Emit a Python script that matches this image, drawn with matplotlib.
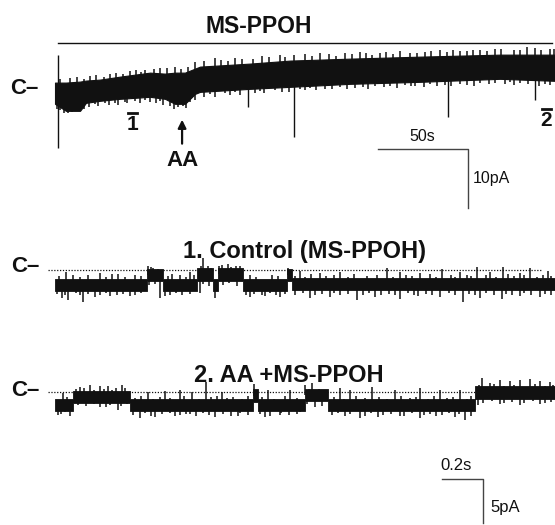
import numpy as np
import matplotlib
matplotlib.use("Agg")
import matplotlib.pyplot as plt

plt.rcParams["font.family"] = ["Liberation Sans", "DejaVu Sans"]
INK = "#111111"

# ---- top trace: long recording (s, pA), closed level = 0 pA ----
top_t = [0, 6.1, 13.9, 17.2, 25, 36.1, 52.8, 61.1, 66.7, 72.2, 77.8, 80.6,
         108.3, 130.6, 163.9, 202.8, 247.2, 277.8]
top_hi = [1.02, 1.02, 1.19, 1.36, 1.53, 2.03, 2.71, 2.54, 2.71, 2.71, 3.39,
          3.73, 4.24, 4.75, 5.08, 5.42, 5.76, 5.76]
top_lo = [-2.88, -4.07, -4.07, -2.71, -2.37, -2.03, -1.69, -2.03, -2.88,
          -2.88, -1.19, -0.85, -0.34, 0.0, 0.51, 0.85, 1.36, 1.02]
top_dn_t = [2.8, 5.0, 7.2, 9.4, 11.7, 13.9, 22.2, 27.8, 33.3, 38.9, 44.4, 50.0,
            58.3, 63.9, 68.3, 71.1, 75.0, 86.1, 94.4, 100.0, 113.9, 122.2,
            136.1, 141.7, 150.0, 158.3, 166.7, 177.8, 186.1, 194.4, 200.0,
            208.3, 216.7, 225.0, 236.1, 244.4, 252.8, 258.3, 272.2,
            1, 16, 19, 24, 30, 35, 40, 47, 53, 56, 60, 66, 73, 78, 83, 89, 97,
            103, 111, 116, 126, 130, 139, 145, 154, 162, 171, 174, 183, 190,
            198, 205, 212, 220, 229, 233, 241, 250, 255, 263, 269, 275]
top_dn_v = [-3.73, -4.24, -4.24, -4.07, -3.90, -3.73, -2.71, -2.54, -2.54,
            -2.37, -2.20, -2.03, -2.20, -3.05, -3.22, -3.05, -2.37, -1.02,
            -0.85, -0.68, -0.51, -0.34, -0.17, 0.0, -0.17, 0.17, 0.0, 0.34,
            0.34, 0.51, 0.34, 0.68, 0.51, 0.68, 0.85, 0.85, 1.02, 0.85, 0.68,
            -3.5, -3.5, -3.2, -3.0, -2.9, -2.8, -2.6, -2.5, -2.4, -2.6, -2.9,
            -3.5, -3.4, -2.0, -1.6, -1.5, -1.2, -1.1, -0.9, -0.8, -0.7, -0.6,
            -0.4, -0.3, -0.2, -0.1, 0.1, -0.1, 0.2, 0.0, 0.3, 0.2, 0.4, 0.3,
            0.5, 0.4, 0.6, 0.7, 0.5, 0.6, 0.4, 0.5]
top_up_t = [8.3, 19.4, 30.6, 41.7, 50.0, 58.3, 66.7, 77.8, 88.9, 100.0, 115.0,
            125.0, 138.9, 147.2, 161.1, 169.4, 180.6, 191.7, 205.6, 213.9,
            225.0, 236.1, 244.4, 258.3, 266.7, 275.0,
            3, 12, 16, 23, 27, 34, 38, 45, 48, 55, 62, 70, 74, 83, 92, 96, 104,
            110, 119, 128, 133, 143, 152, 156, 165, 173, 176, 184, 188, 197,
            201, 209, 218, 221, 229, 232, 240, 248, 255, 262, 270, 277]
top_up_v = [1.69, 2.03, 2.37, 2.88, 3.05, 3.39, 3.56, 4.41, 5.08, 5.08, 5.42,
            5.59, 5.76, 5.93, 5.93, 6.10, 5.93, 6.27, 6.10, 6.44, 6.27, 6.44,
            6.61, 6.44, 6.78, 6.61,
            1.6, 1.9, 1.5, 2.2, 1.9, 2.6, 2.3, 3.1, 2.8, 3.2, 3.4, 3.3, 3.6,
            4.6, 4.8, 4.5, 5.0, 4.9, 5.3, 5.2, 5.6, 5.5, 5.8, 5.5, 5.7, 5.9,
            5.6, 6.1, 5.8, 6.0, 5.9, 6.2, 6.1, 6.4, 6.2, 6.5, 6.3, 6.6, 6.4,
            6.9, 6.5, 6.6]
spike_t = [1.7, 107.2, 132.8, 218.3, 266.7]
spike_from = [5.6, 1.0, 1.0, 2.5, 3.0]
spike_to = [-10.2, -3.2, -8.3, -4.9, -2.0]

# ---- trace 1: Control (MS-PPOH) ----
tr1_edges = [0, 0.449, 0.527, 0.693, 0.771, 0.795, 0.917, 1.132, 1.156, 2.439]
tr1_level = [-1.7, -0.6, -1.7, -0.5, -1.7, -0.5, -1.7, -0.6, -1.6]
tr1_up_t = [0.054, 0.220, 0.307, 0.454, 0.478, 0.571, 0.659, 0.722, 0.746,
            0.815, 0.844, 0.883, 1.137, 1.195, 1.293, 1.390, 1.620, 1.683,
            1.780, 1.888, 1.976, 2.059, 2.122, 2.185, 2.268, 2.317, 2.405,
            0.02, 0.09, 0.12, 0.16, 0.25, 0.28, 0.34, 0.39, 0.42, 0.47, 0.50,
            0.55, 0.61, 0.64, 0.68, 0.71, 0.76, 0.80, 0.86, 0.90, 0.95, 0.98,
            1.06, 1.09, 1.17, 1.22, 1.25, 1.32, 1.36, 1.43, 1.46, 1.52, 1.57,
            1.65, 1.71, 1.74, 1.83, 1.86, 1.93, 1.95, 2.01, 2.03, 2.10, 2.15,
            2.21, 2.24, 2.29, 2.35, 2.38, 2.42]
tr1_up_v = [-0.23, -0.34, -0.45, 0.45, 0.23, -0.45, -0.23, 1.36, 0.45, 0.57,
            0.68, 0.45, 0.23, -0.11, -0.34, -0.23, 0.23, -0.23, -0.34, 0.11,
            -0.23, 0.34, -0.23, 0.34, -0.34, 0.23, -0.11,
            -0.7, -0.55, -0.85, -0.6, -0.75, -0.5, -0.8, -0.6, -0.7, 0.3, 0.1,
            -0.7, -0.55, -0.8, -0.6, 0.4, 0.2, 0.5, 0.3, 0.4, -0.6, -0.8,
            -0.55, -0.7, -0.65, -0.8, -0.5, -0.7, -0.6, -0.75, -0.5, -0.7,
            -0.55, -0.8, -0.6, -0.7, -0.5, -0.75, -0.6, -0.8, -0.55, -0.7,
            -0.6, -0.8, -0.5, -0.7, -0.6, -0.75, -0.55, -0.7]
tr1_dn_t = [0.034, 0.063, 0.137, 0.195, 0.268, 0.366, 0.512, 0.537, 0.707,
            0.780, 0.951, 1.024, 1.098, 1.244, 1.341, 1.473, 1.561, 1.683,
            1.771, 1.878, 1.990, 2.073, 2.180, 2.268, 2.366,
            0.01, 0.05, 0.10, 0.12, 0.16, 0.22, 0.25, 0.30, 0.33, 0.39, 0.42,
            0.46, 0.49, 0.56, 0.59, 0.62, 0.66, 0.72, 0.75, 0.82, 0.85, 0.89,
            0.93, 0.97, 1.01, 1.05, 1.08, 1.12, 1.17, 1.21, 1.27, 1.30, 1.36,
            1.39, 1.43, 1.50, 1.53, 1.59, 1.63, 1.66, 1.72, 1.75, 1.81, 1.84,
            1.92, 1.95, 2.02, 2.05, 2.10, 2.14, 2.20, 2.23, 2.29, 2.32, 2.39,
            2.42]
tr1_dn_v = [-3.18, -3.41, -3.64, -3.07, -2.95, -2.95, -3.18, -2.95, -2.61,
            -3.18, -3.07, -2.95, -3.07, -3.18, -3.07, -3.41, -3.07, -3.30,
            -2.95, -3.07, -3.64, -3.18, -3.30, -2.95, -3.07,
            -2.7, -2.9, -2.6, -2.8, -2.7, -2.9, -2.6, -2.8, -2.7, -2.9, -2.6,
            -1.7, -1.6, -2.8, -2.6, -2.9, -2.7, -1.6, -1.8, -1.7, -1.5, -1.8,
            -2.8, -2.7, -2.9, -2.6, -2.8, -2.7, -2.8, -2.6, -2.9, -2.7, -2.6,
            -2.9, -2.7, -2.8, -2.6, -2.8, -2.7, -2.9, -2.6, -2.8, -2.7, -2.9,
            -2.6, -2.8, -2.7, -2.9, -2.6, -2.8, -2.7, -2.9, -2.6, -2.8, -2.7,
            -2.9]

# ---- trace 2: AA + MS-PPOH ----
tr2_edges = [0, 0.088, 0.366, 0.966, 0.990, 1.220, 1.332, 2.049, 2.439]
tr2_level = [-1.5, -0.6, -1.5, -0.4, -1.5, -0.35, -1.45, -0.05]
tr2_up_t = [0.039, 0.122, 0.171, 0.220, 0.259, 0.298, 0.327, 0.454, 0.537,
            0.610, 0.668, 0.737, 0.815, 0.971, 1.039, 1.146, 1.220, 1.254,
            1.390, 1.439, 1.546, 1.659, 1.780, 1.878, 1.976, 2.083, 2.122,
            2.171, 2.220, 2.268, 2.317, 2.366, 2.415,
            0.06, 0.10, 0.14, 0.19, 0.24, 0.28, 0.34, 0.39, 0.42, 0.48, 0.51,
            0.56, 0.63, 0.70, 0.76, 0.79, 0.84, 0.87, 0.91, 0.94, 1.01, 1.07,
            1.12, 1.18, 1.24, 1.29, 1.36, 1.41, 1.47, 1.51, 1.58, 1.62, 1.69,
            1.73, 1.76, 1.82, 1.85, 1.91, 1.94, 2.01, 2.03, 2.07, 2.10, 2.14,
            2.19, 2.24, 2.29, 2.34, 2.39, 2.43]
tr2_up_v = [-0.11, 0.57, 0.80, 0.68, 0.68, 0.45, 0.80, 0.0, 0.11, 0.23, 0.0,
            1.14, 0.0, 0.91, 0.23, 0.23, 0.80, 1.02, 0.45, 0.23, 0.57, 0.23,
            0.45, 0.23, 0.23, 1.59, 1.02, 1.36, 1.25, 1.36, 1.48, 1.25, 1.14,
            -0.6, 0.3, 0.5, 0.2, 0.4, 0.2, 0.5, -0.7, -0.5, -0.8, -0.6, -0.7,
            -0.5, -0.8, -0.6, -0.5, -0.7, -0.6, -0.8, -0.5, -0.6, -0.8, -0.5,
            -0.7, 0.4, 0.3, -0.6, -0.8, -0.5, -0.7, -0.6, -0.8, -0.5, -0.7,
            -0.6, -0.8, -0.5, -0.7, -0.6, -0.8, -0.5, 0.8, 0.6, 0.9, 0.7, 0.8,
            0.6, 0.9, 0.7, 0.8]
tr2_dn_t = [0.015, 0.073, 0.220, 0.307, 0.415, 0.488, 0.585, 0.659, 0.780,
            0.893, 1.024, 1.098, 1.195, 1.268, 1.415, 1.488, 1.576, 1.683,
            1.780, 1.859, 1.951, 2.000, 2.063, 2.171, 2.268, 2.366,
            0.03, 0.05, 0.11, 0.15, 0.19, 0.25, 0.27, 0.32, 0.35, 0.38, 0.44,
            0.47, 0.52, 0.56, 0.61, 0.64, 0.69, 0.72, 0.75, 0.82, 0.86, 0.90,
            0.94, 1.00, 1.05, 1.10, 1.14, 1.18, 1.23, 1.30, 1.35, 1.38, 1.44,
            1.51, 1.54, 1.60, 1.64, 1.70, 1.74, 1.80, 1.83, 1.89, 1.92, 1.97,
            2.03, 2.09, 2.13, 2.19, 2.23, 2.29, 2.33, 2.39, 2.42]
tr2_dn_v = [-2.61, -2.73, -1.70, -2.05, -2.95, -2.84, -2.73, -2.50, -2.84,
            -2.73, -2.84, -2.61, -2.27, -1.70, -2.73, -2.95, -2.84, -2.73,
            -2.95, -2.73, -2.84, -3.18, -1.48, -1.36, -1.48, -1.36,
            -2.5, -2.3, -1.5, -1.6, -1.4, -1.7, -1.5, -1.6, -1.4, -2.6, -2.4,
            -2.7, -2.5, -2.4, -2.6, -2.5, -2.7, -2.4, -2.6, -2.5, -2.7, -2.4,
            -2.6, -2.5, -2.7, -2.4, -2.6, -2.5, -1.4, -1.6, -2.6, -2.4, -2.5,
            -2.7, -2.4, -2.6, -2.5, -2.7, -2.4, -2.6, -2.5, -2.6, -2.4, -2.5,
            -2.7, -1.2, -1.0, -1.3, -1.1, -1.2, -1.0, -1.3, -1.1]


def level_at(edges, levels, t):
    i = np.searchsorted(edges, t, side="right") - 1
    return np.asarray(levels)[np.clip(i, 0, len(levels) - 1)]


def draw_unitary(ax, edges, levels, half, up_t, up_v, dn_t, dn_v):
    lv = np.array(list(levels) + [levels[-1]])
    ax.fill_between(edges, lv - half, lv + half, step="post", color=INK, lw=0.6,
                    edgecolor=INK)
    base = level_at(edges, levels, np.array(up_t))
    ax.vlines(up_t, base, up_v, color=INK, lw=1.1)
    base = level_at(edges, levels, np.array(dn_t))
    ax.vlines(dn_t, base, dn_v, color=INK, lw=1.1)


fig = plt.figure(figsize=(5.55, 5.25), dpi=100)
bold = dict(fontweight="bold", color=INK)

# top panel
ax0 = fig.add_axes([0, 1 - 220 / 525, 1, 220 / 525])
ax0.set_xlim(-30.56, 277.78)
ax0.set_ylim(-22.37, 14.92)
ax0.axis("off")
ax0.fill_between(top_t, np.array(top_lo) + 0.2, np.array(top_hi) - 0.1,
                 color=INK, lw=0.8, edgecolor=INK)
ax0.vlines(top_dn_t, np.interp(top_dn_t, top_t, top_lo) + 0.5, top_dn_v,
           color=INK, lw=1.1)
ax0.vlines(top_up_t, np.interp(top_up_t, top_t, top_hi) - 0.5, top_up_v,
           color=INK, lw=1.1)
ax0.vlines(spike_t, spike_from, spike_to, color=INK, lw=1.0)
ax0.plot([1.7, 276], [7.6, 7.6], color=INK, lw=1.0)
ax0.text(113, 10.5, "MS-PPOH", ha="center", va="center", fontsize=16.5, **bold)
ax0.text(-25, 0, "C–", ha="left", va="center", fontsize=16, **bold)
ax0.text(43, -6.2, "1", ha="center", va="center", fontsize=15, **bold)
ax0.plot([40.5, 45.5], [-4.3, -4.3], color=INK, lw=2)
ax0.text(273, -5.5, "2", ha="center", va="center", fontsize=15, **bold)
ax0.plot([270.5, 275.5], [-3.6, -3.6], color=INK, lw=2)
ax0.annotate("", xy=(70.6, -4.9), xytext=(70.6, -9.9),
             arrowprops=dict(arrowstyle="-|>", color=INK, lw=1.6, mutation_scale=12))
ax0.text(70.6, -12.2, "AA", ha="center", va="center", fontsize=16, **bold)
ax0.plot([179.4, 229.4, 229.4], [-10.3, -10.3, -20.3], color="#444444", lw=1.0)
ax0.text(204, -8.3, "50s", ha="center", va="center", fontsize=11.5, color=INK)
ax0.text(232, -15.3, "10pA", ha="left", va="center", fontsize=11.5, color=INK)

# trace 1
ax1 = fig.add_axes([0, 190 / 525, 1, 115 / 525])
ax1.set_xlim(-0.2683, 2.439)
ax1.set_ylim(-7.39, 5.68)
ax1.axis("off")
ax1.plot([-0.034, 2.376], [0, 0], color=INK, lw=0.9, ls=(0, (1, 1.3)))
draw_unitary(ax1, tr1_edges, tr1_level, 0.7, tr1_up_t, tr1_up_v, tr1_dn_t, tr1_dn_v)
ax1.text(1.215, 2.05, "1. Control (MS-PPOH)", ha="center", va="center",
         fontsize=17, **bold)
ax1.text(-0.215, 0.4, "C–", ha="left", va="center", fontsize=16, **bold)

# trace 2
ax2 = fig.add_axes([0, 0, 1, 190 / 525])
ax2.set_xlim(-0.2683, 2.439)
ax2.set_ylim(-15.11, 6.48)
ax2.axis("off")
ax2.plot([-0.034, 2.054], [0, 0], color=INK, lw=0.9, ls=(0, (1, 1.3)))
draw_unitary(ax2, tr2_edges, tr2_level, 0.7, tr2_up_t, tr2_up_v, tr2_dn_t, tr2_dn_v)
ax2.text(1.141, 1.93, "2. AA +MS-PPOH", ha="center", va="center",
         fontsize=17, **bold)
ax2.text(-0.215, 0.2, "C–", ha="left", va="center", fontsize=16, **bold)
ax2.plot([1.888, 2.088, 2.088], [-9.89, -9.89, -14.89], color="#444444", lw=1.0)
ax2.text(1.878, -8.3, "0.2s", ha="left", va="center", fontsize=12, color=INK)
ax2.text(2.125, -13.1, "5pA", ha="left", va="center", fontsize=12, color=INK)

fig.savefig("out.png", dpi=100)
